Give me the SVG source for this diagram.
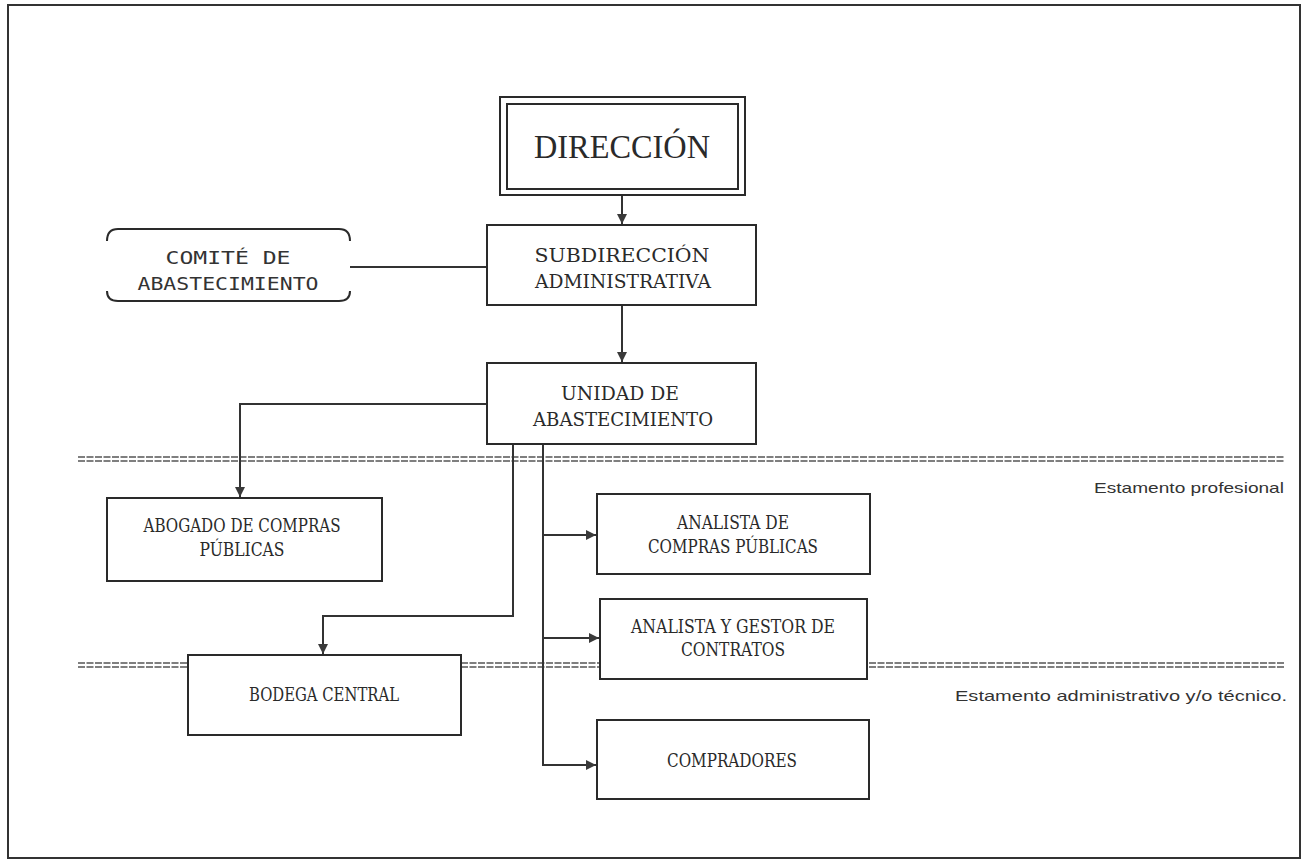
<svg xmlns="http://www.w3.org/2000/svg" width="1306" height="864" viewBox="0 0 1306 864">
<defs>
<marker id="arr" viewBox="0 0 10 10" refX="10" refY="5" markerWidth="10" markerHeight="10" markerUnits="userSpaceOnUse" orient="auto">
<path d="M0,0 L10,5 L0,10 z" fill="#3a3a3a"/>
</marker>
<style>
.box{fill:#fff;stroke:#2a2a2a;stroke-width:2}
.t{font-family:"DejaVu Serif","Liberation Serif",serif;font-size:18px;fill:#2a2a2a;text-anchor:middle}
.c{fill:none;stroke:#333;stroke-width:2}
.dl{stroke:#555;stroke-width:1.3;stroke-dasharray:7 1.5}
.lab{font-family:"Liberation Sans","DejaVu Sans",sans-serif;font-size:15px;fill:#333;text-anchor:end}
</style>
</defs>
<rect x="0" y="0" width="1306" height="864" fill="#fff"/>
<rect x="8" y="5" width="1292" height="853" fill="none" stroke="#333" stroke-width="2"/>

<g id="separators">
<line class="dl" x1="78" y1="457" x2="1285" y2="457"/>
<line class="dl" x1="78" y1="461" x2="1285" y2="461"/>
<line class="dl" x1="78" y1="663" x2="190" y2="663"/>
<line class="dl" x1="78" y1="667" x2="190" y2="667"/>
<line class="dl" x1="461" y1="663" x2="1285" y2="663"/>
<line class="dl" x1="461" y1="667" x2="1285" y2="667"/>
<text class="lab" x="1284" y="493" textLength="190" lengthAdjust="spacingAndGlyphs">Estamento profesional</text>
<text class="lab" x="1287" y="701" textLength="332" lengthAdjust="spacingAndGlyphs">Estamento administrativo y/o técnico.</text>
</g>

<g id="connectors">
<line class="c" x1="622" y1="196" x2="622" y2="224" marker-end="url(#arr)"/>
<line class="c" x1="350" y1="267" x2="487" y2="267"/>
<line class="c" x1="622" y1="306" x2="622" y2="362" marker-end="url(#arr)"/>
<polyline class="c" points="487,404 240,404 240,497" marker-end="url(#arr)"/>
<polyline class="c" points="513,445 513,616 323,616 323,654" marker-end="url(#arr)"/>
<polyline class="c" points="543,445 543,765 596,765" marker-end="url(#arr)"/>
<line class="c" x1="543" y1="535" x2="596" y2="535" marker-end="url(#arr)"/>
<line class="c" x1="543" y1="638" x2="599" y2="638" marker-end="url(#arr)"/>
</g>

<g id="direccion">
<rect class="box" x="500" y="97" width="245" height="98"/>
<rect class="box" x="507" y="104" width="231" height="85"/>
<text x="622" y="158" font-family="'Liberation Serif','DejaVu Serif',serif" font-size="33" fill="#2a2a2a" text-anchor="middle" textLength="176" lengthAdjust="spacingAndGlyphs">DIRECCIÓN</text>
</g>

<g id="subdireccion">
<rect class="box" x="487" y="225" width="269" height="80"/>
<text class="t" x="622" y="262" textLength="175" lengthAdjust="spacingAndGlyphs">SUBDIRECCIÓN</text>
<text class="t" x="623" y="288" textLength="176" lengthAdjust="spacingAndGlyphs">ADMINISTRATIVA</text>
</g>

<g id="comite">
<path d="M107,241 Q107,229 118,229 L339,229 Q350,229 350,241" fill="none" stroke="#2a2a2a" stroke-width="2"/>
<path d="M107,291 Q107,301 118,301 L339,301 Q350,301 350,291" fill="none" stroke="#2a2a2a" stroke-width="2"/>
<text x="228" y="264" font-family="'DejaVu Sans Mono','Liberation Mono',monospace" font-size="17" fill="#333" text-anchor="middle" textLength="125" lengthAdjust="spacingAndGlyphs">COMITÉ DE</text>
<text x="228" y="290" font-family="'DejaVu Sans Mono','Liberation Mono',monospace" font-size="17" fill="#333" text-anchor="middle" textLength="181" lengthAdjust="spacingAndGlyphs">ABASTECIMIENTO</text>
</g>

<g id="unidad">
<rect class="box" x="487" y="363" width="269" height="81"/>
<text class="t" x="620" y="400" textLength="118" lengthAdjust="spacingAndGlyphs">UNIDAD DE</text>
<text class="t" x="623" y="426" textLength="180" lengthAdjust="spacingAndGlyphs">ABASTECIMIENTO</text>
</g>

<g id="abogado">
<rect class="box" x="107" y="498" width="275" height="83"/>
<text class="t" x="242" y="532" textLength="197" lengthAdjust="spacingAndGlyphs">ABOGADO DE COMPRAS</text>
<text class="t" x="242" y="556" textLength="85" lengthAdjust="spacingAndGlyphs">PÚBLICAS</text>
</g>

<g id="analista-compras">
<rect class="box" x="597" y="494" width="273" height="80"/>
<text class="t" x="733" y="529" textLength="112" lengthAdjust="spacingAndGlyphs">ANALISTA DE</text>
<text class="t" x="733" y="553" textLength="170" lengthAdjust="spacingAndGlyphs">COMPRAS PÚBLICAS</text>
</g>

<g id="analista-gestor">
<rect class="box" x="600" y="599" width="267" height="80"/>
<text class="t" x="733" y="633" textLength="204" lengthAdjust="spacingAndGlyphs">ANALISTA Y GESTOR DE</text>
<text class="t" x="733" y="656" textLength="104" lengthAdjust="spacingAndGlyphs">CONTRATOS</text>
</g>

<g id="bodega">
<rect class="box" x="188" y="655" width="273" height="80"/>
<text class="t" x="324" y="701" textLength="150" lengthAdjust="spacingAndGlyphs">BODEGA CENTRAL</text>
</g>

<g id="compradores">
<rect class="box" x="597" y="720" width="272" height="79"/>
<text class="t" x="732" y="767" textLength="130" lengthAdjust="spacingAndGlyphs">COMPRADORES</text>
</g>
</svg>
